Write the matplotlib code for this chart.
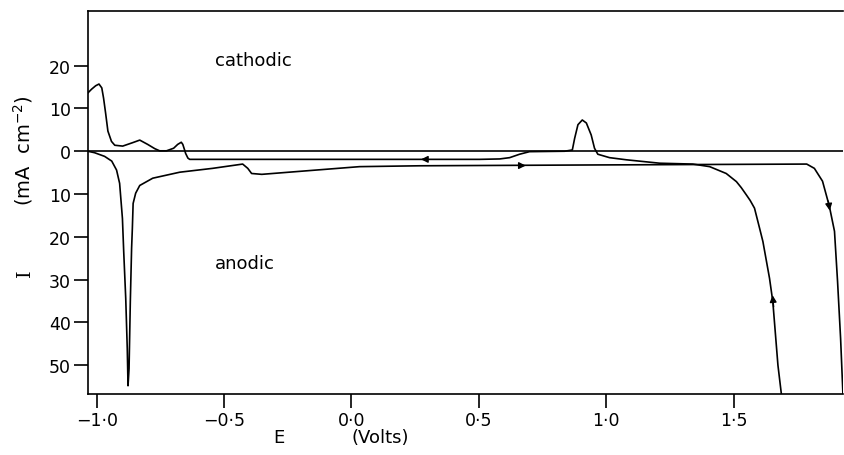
import numpy as np
import matplotlib.pyplot as plt

# forward (anodic) sweep, E in V, I in mA cm-2 (cathodic positive)
E_fwd = [-1.035, -1.008, -0.969, -0.941, -0.922, -0.910, -0.899, -0.894, -0.886, -0.880,
         -0.877, -0.873, -0.868, -0.863, -0.860, -0.857, -0.847, -0.831, -0.780, -0.674,
         -0.545, -0.427, -0.407, -0.392, -0.352, -0.203, 0.032, 0.268, 0.974, 1.787,
         1.817, 1.849, 1.876, 1.896, 1.908, 1.920, 1.930]
I_fwd = [0.0, -0.35, -1.2, -2.3, -4.4, -7.5, -15.7, -23.4, -34.4, -46.1,
         -54.8, -50.8, -35.1, -22.7, -18.0, -12.2, -9.8, -8.0, -6.3, -4.9,
         -4.0, -3.0, -4.0, -5.2, -5.4, -4.7, -3.6, -3.4, -3.2, -3.0,
         -4.0, -7.0, -12.9, -18.7, -30.4, -43.8, -58.0]

# reverse (cathodic) sweep
E_rev = [1.690, 1.674, 1.654, 1.641, 1.615, 1.602, 1.582, 1.565, 1.550, 1.530,
         1.511, 1.471, 1.406, 1.340, 1.210, 1.079, 1.013, 0.967, 0.954, 0.941,
         0.922, 0.906, 0.889, 0.876, 0.867, 0.837, 0.699, 0.660, 0.621, 0.582,
         0.503, -0.635, -0.642, -0.651, -0.655, -0.662, -0.668, -0.682, -0.698, -0.726,
         -0.753, -0.772, -0.800, -0.831, -0.859, -0.898, -0.929, -0.942, -0.956, -0.965,
         -0.973, -0.980, -0.991, -1.004, -1.020, -1.035]
I_rev = [-58.0, -50.0, -35.2, -29.7, -21.1, -18.0, -13.3, -11.5, -10.2, -8.5,
         -7.1, -5.2, -3.6, -3.0, -2.8, -2.0, -1.5, -0.7, 0.7, 3.8,
         6.6, 7.3, 6.2, 3.0, 0.3, 0.0, -0.1, -0.7, -1.5, -1.8,
         -1.9, -1.9, -1.6, -0.5, 0.3, 1.6, 2.1, 1.6, 0.7, 0.1,
         0.1, 0.6, 1.6, 2.6, 2.0, 1.2, 1.4, 2.3, 4.7, 8.9,
         12.4, 14.8, 15.7, 15.3, 14.5, 13.6]

xticks = [-1.0, -0.5, 0.0, 0.5, 1.0, 1.5]
xticklabels = ['\u22121\u00b70', '\u22120\u00b75', '0\u00b70', '0\u00b75', '1\u00b70', '1\u00b75']
yticks = [20, 10, 0, -10, -20, -30, -40, -50]
yticklabels = ['20', '10', '0', '10', '20', '30', '40', '50']

fig = plt.figure(figsize=(8.44, 4.56), dpi=100)
ax = fig.add_axes([0.104, 0.134, 0.895, 0.840])

ax.axhline(0, color='k', lw=1.2)
ax.plot(E_fwd, I_fwd, color='k', lw=1.2)
ax.plot(E_rev, I_rev, color='k', lw=1.2)

# sweep direction arrows
ap = dict(arrowstyle='-|>', color='k', lw=1.0, mutation_scale=10)
ax.annotate('', xy=(0.262, -1.9), xytext=(0.31, -1.9), arrowprops=ap)
ax.annotate('', xy=(0.695, -3.35), xytext=(0.65, -3.35), arrowprops=ap)
ax.annotate('', xy=(1.879, -14.5), xytext=(1.870, -11.0), arrowprops=ap)
ax.annotate('', xy=(1.652, -33.0), xytext=(1.658, -37.0), arrowprops=ap)

ax.set_xlim(-1.035, 1.930)
ax.set_ylim(-56.7, 32.8)
ax.set_xticks(xticks)
ax.set_xticklabels(xticklabels)
ax.set_yticks(yticks)
ax.set_yticklabels(yticklabels)
ax.tick_params(direction='out', length=10, width=1.2, labelsize=12.5, pad=2)
ax.spines['right'].set_visible(False)
for s in ['left', 'top', 'bottom']:
    ax.spines[s].set_linewidth(1.2)

ax.text(-0.384, 21.3, 'cathodic', fontsize=13, ha='center', va='center')
ax.text(-0.419, -26.2, 'anodic', fontsize=13, ha='center', va='center')

fig.text(0.330, 0.040, 'E', fontsize=13, ha='center', va='center')
fig.text(0.450, 0.040, '(Volts)', fontsize=13, ha='center', va='center')
fig.text(0.027, 0.67, '(mA  cm$^{-2}$)', fontsize=14, ha='center', va='center', rotation=90)
fig.text(0.030, 0.40, 'I', fontsize=14, family='DejaVu Serif', ha='center', va='center', rotation=90)

fig.savefig('out.png', dpi=100)
